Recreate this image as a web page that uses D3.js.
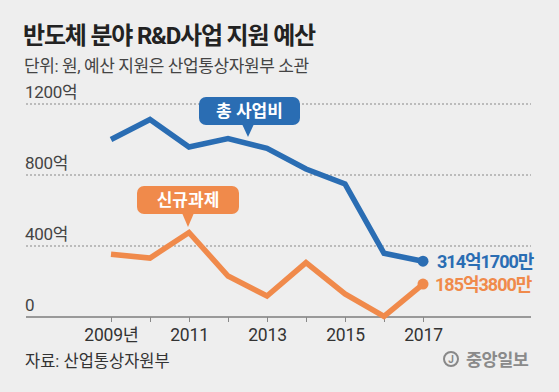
<!DOCTYPE html>
<html>
<head>
<meta charset="utf-8">
<script src="https://cdn.jsdelivr.net/npm/d3@7"></script>
<style>
  html, body { margin: 0; padding: 0; background: #eeeeee; }
  svg { display: block; font-family: Roboto, "Noto Sans CJK KR", sans-serif; }
</style>
</head>
<body>
<div id="chart"></div>
<script>
  const years = [2009, 2010, 2011, 2012, 2013, 2014, 2015, 2016, 2017];
  const totalBudget = [1000, 1113, 958, 1005, 950, 834, 750, 359, 314.17];
  const newProjects = [353, 332, 476, 231, 118, 306, 130, 3, 185.38];
  const yTicks = [0, 400, 800, 1200];
  const yTickLabels = ["0", "400억", "800억", "1200억"];
  const xTickLabels = { 2009: "2009년", 2011: "2011", 2013: "2013", 2015: "2015", 2017: "2017" };
  const endLabels = ["314억1700만", "185억3800만"];

  const width = 559;
  const height = 392;
  const blue = "#2a6db3";
  const orange = "#f08a4b";
  const fontStack = "Roboto, Noto Sans CJK KR, sans-serif";

  const svg = d3.select("#chart")
    .append("svg")
    .attr("width", width)
    .attr("height", height)
    .attr("font-family", fontStack);

  svg.append("rect")
    .attr("width", width)
    .attr("height", height)
    .attr("fill", "#eeeeee");

  const xScale = d3.scaleLinear()
    .domain([2009, 2017])
    .range([111, 423]);
  const yScale = d3.scaleLinear()
    .domain([0, 1200])
    .range([317, 104]);

  // title
  svg.append("text")
    .attr("x", 23)
    .attr("y", 44)
    .attr("font-size", 24)
    .attr("font-weight", "bold")
    .attr("fill", "#222")
    .attr("letter-spacing", -1.2)
    .text("반도체 분야 R&D사업 지원 예산");
  svg.append("text")
    .attr("x", 24)
    .attr("y", 72)
    .attr("font-size", 17)
    .attr("fill", "#444")
    .attr("letter-spacing", -0.4)
    .text("단위: 원, 예산 지원은 산업통상자원부 소관");

  // gridlines
  yTicks.forEach((v, i) => {
    if (v > 0) {
      svg.append("line")
        .attr("x1", 26).attr("x2", 531)
        .attr("y1", yScale(v)).attr("y2", yScale(v))
        .attr("stroke", "#888")
        .attr("stroke-width", 1)
        .attr("stroke-dasharray", "2,2");
    }
    svg.append("text")
      .attr("x", 25)
      .attr("y", yScale(v) - 6)
      .attr("font-size", 17)
      .attr("fill", "#444")
      .attr("letter-spacing", -0.3)
      .text(yTickLabels[i]);
  });

  // x axis
  const xAxis = d3.axisBottom(xScale)
    .tickValues(years)
    .tickSize(5)
    .tickFormat(d => xTickLabels[d] || "");
  const xAxisGroup = svg.append("g")
    .attr("transform", `translate(0,${yScale(0)})`)
    .call(xAxis);
  xAxisGroup.attr("font-family", fontStack);
  xAxisGroup.select(".domain").remove();
  xAxisGroup.insert("line", ":first-child")
    .attr("x1", 26).attr("x2", 531)
    .attr("stroke", "#999")
    .attr("stroke-width", 2);
  xAxisGroup.selectAll(".tick line")
    .attr("stroke", "#888")
    .attr("stroke-width", 1);
  xAxisGroup.selectAll(".tick text")
    .attr("y", 12)
    .attr("font-size", 17.5)
    .attr("fill", "#333")
    .attr("letter-spacing", -0.2);

  // lines
  const line = d3.line()
    .x((d, i) => xScale(years[i]))
    .y(d => yScale(d));

  [[totalBudget, blue], [newProjects, orange]].forEach(([values, color]) => {
    svg.append("path")
      .datum(values)
      .attr("d", line)
      .attr("fill", "none")
      .attr("stroke", color)
      .attr("stroke-width", 5.5)
      .attr("stroke-linejoin", "miter")
      .attr("stroke-linecap", "butt");
    svg.append("circle")
      .attr("cx", xScale(years[years.length - 1]))
      .attr("cy", yScale(values[values.length - 1]))
      .attr("r", 5.5)
      .attr("fill", color);
  });

  // end labels
  svg.append("text")
    .attr("x", 437)
    .attr("y", yScale(totalBudget[8]) + 6.5)
    .attr("font-size", 18)
    .attr("font-weight", "bold")
    .attr("fill", blue)
    .attr("letter-spacing", -1)
    .text(endLabels[0]);
  svg.append("text")
    .attr("x", 435)
    .attr("y", yScale(newProjects[8]) + 7)
    .attr("font-size", 18)
    .attr("font-weight", "bold")
    .attr("fill", orange)
    .attr("letter-spacing", -1)
    .text(endLabels[1]);

  // callouts
  function callout(x0, y0, w, h, px, tipY, color, label) {
    const g = svg.append("g");
    g.append("rect")
      .attr("x", x0).attr("y", y0)
      .attr("width", w).attr("height", h)
      .attr("rx", 7)
      .attr("fill", color);
    g.append("path")
      .attr("d", `M${px - 6},${y0 + h - 1} L${px + 6},${y0 + h - 1} L${px},${tipY} Z`)
      .attr("fill", color);
    g.append("text")
      .attr("x", x0 + w / 2)
      .attr("y", y0 + h / 2 + 6)
      .attr("text-anchor", "middle")
      .attr("font-size", 17)
      .attr("font-weight", "bold")
      .attr("fill", "#fff")
      .text(label);
  }
  callout(199, 97, 101, 28, 248, 137, blue, "총 사업비");
  callout(137, 186, 102, 28, 188, 227, orange, "신규과제");

  // source
  svg.append("text")
    .attr("x", 25)
    .attr("y", 367)
    .attr("font-size", 16.5)
    .attr("fill", "#333")
    .text("자료: 산업통상자원부");

  // logo
  svg.append("circle")
    .attr("cx", 451).attr("cy", 359).attr("r", 7)
    .attr("fill", "none").attr("stroke", "#888").attr("stroke-width", 2);
  svg.append("text")
    .attr("x", 451).attr("y", 363)
    .attr("text-anchor", "middle")
    .attr("font-size", 10)
    .attr("font-weight", "bold")
    .attr("fill", "#888")
    .text("J");
  svg.append("text")
    .attr("x", 466)
    .attr("y", 366)
    .attr("font-size", 17.5)
    .attr("font-weight", "bold")
    .attr("fill", "#8a8a8a")
    .attr("letter-spacing", -0.5)
    .text("중앙일보");
</script>
</body>
</html>
